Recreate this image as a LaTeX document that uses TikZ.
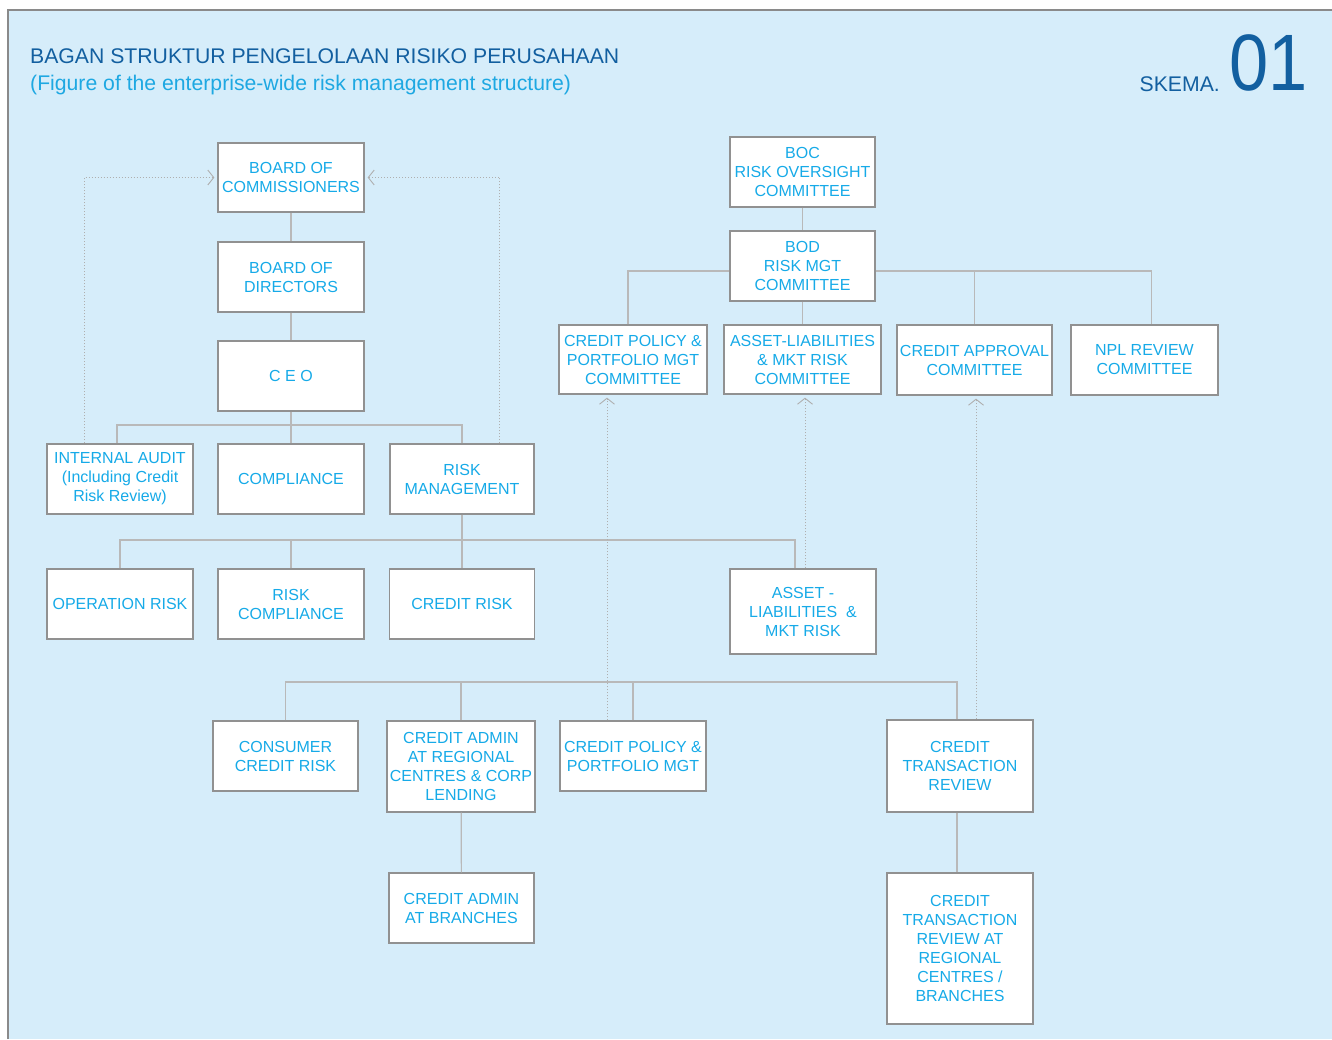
\documentclass[tikz,border=0pt]{standalone}
\usepackage{fontspec}
\setmainfont{Liberation Sans}
\usetikzlibrary{arrows.meta,calc}
\definecolor{bgblue}{RGB}{214,237,250}
\definecolor{frameg}{RGB}{138,138,138}
\definecolor{boxborder}{RGB}{145,145,145}
\definecolor{conng}{RGB}{185,185,185}
\definecolor{dotg}{RGB}{175,175,175}
\definecolor{boxtext}{RGB}{22,170,232}
\definecolor{titleblue}{RGB}{18,95,160}
\definecolor{subblue}{RGB}{30,168,226}
\newcommand{\boxfont}{\fontsize{16}{19}\selectfont}
\tikzset{
  box/.style={draw=boxborder, line width=1.3pt, fill=white, inner sep=0pt,
    align=center, text=boxtext, font=\boxfont},
  conn/.style={draw=conng, line width=1.2pt},
  dotl/.style={draw=dotg, line width=1pt, dotted, shorten >=3pt,
    -{Straight Barb[length=6pt,width=15pt,line width=0.9pt]}},
}
\begin{document}
\begin{tikzpicture}[x=1pt,y=-1pt]
\useasboundingbox (0,0) rectangle (1332,1039);
\fill[white] (0,0) rectangle (1332,1039);
\fill[bgblue] (8,10) rectangle (1332,1039);
\draw[frameg, line width=1.6pt] (8,1039) -- (8,10) -- (1332,10);

% titles
\node[anchor=base west, inner sep=0, text=titleblue, font=\fontsize{21.2}{25}\selectfont] (title) at (30,63) {BAGAN STRUKTUR PENGELOLAAN RISIKO PERUSAHAAN};
\node[anchor=base west, inner sep=0, text=subblue, font=\fontsize{21.2}{25}\selectfont] (subtitle) at (30,90) {(Figure of the enterprise-wide risk management structure)};
\node[anchor=base east, inner sep=0, text=titleblue, font=\fontsize{21.2}{25}\selectfont] (skema) at (1220,91) {SKEMA.};
\node[anchor=base east, inner sep=0, text=titleblue, font=\fontsize{80}{90}\selectfont] (num) at (1308,90) {\scalebox{0.88}[1]{01}};

% left hierarchy
\node[box, minimum width=146, minimum height=69] (boc) at (291,177.5) {BOARD OF\\COMMISSIONERS};
\node[box, minimum width=146, minimum height=70] (bod) at (291,277) {BOARD OF\\DIRECTORS};
\node[box, minimum width=146, minimum height=70] (ceo) at (291,376) {C E O};
\node[box, minimum width=146, minimum height=70] (ia) at (120,479) {INTERNAL AUDIT\\(Including Credit\\Risk Review)};
\node[box, minimum width=146, minimum height=70] (comp) at (291,479) {COMPLIANCE};
\node[box, minimum width=144, minimum height=70] (rm) at (462,479) {RISK\\MANAGEMENT};
\node[box, minimum width=146, minimum height=70] (opr) at (120,604) {OPERATION RISK};
\node[box, minimum width=146, minimum height=70] (rc) at (291,604) {RISK\\COMPLIANCE};
\node[box, minimum width=145, minimum height=70] (cr) at (462,604) {CREDIT RISK};
\node[box, minimum width=146, minimum height=85] (alr) at (803,611.5) {ASSET -\\LIABILITIES~~\&\\MKT RISK};
\node[box, minimum width=145, minimum height=70] (ccr) at (285.5,756) {CONSUMER\\CREDIT RISK};
\node[box, minimum width=148, minimum height=91] (car) at (461,766.5) {CREDIT ADMIN\\AT REGIONAL\\CENTRES \& CORP\\LENDING};
\node[box, minimum width=146, minimum height=70] (cpm) at (633,756) {CREDIT POLICY \&\\PORTFOLIO MGT};
\node[box, minimum width=146, minimum height=92] (ctr) at (960,766) {CREDIT\\TRANSACTION\\REVIEW};
\node[box, minimum width=145, minimum height=70] (cab) at (461.5,908) {CREDIT ADMIN\\AT BRANCHES};
\node[box, minimum width=146, minimum height=151] (ctrr) at (960,948.5) {CREDIT\\TRANSACTION\\REVIEW AT\\REGIONAL\\CENTRES /\\BRANCHES};

% right hierarchy
\node[box, minimum width=145, minimum height=70] (broc) at (802.5,172) {BOC\\RISK OVERSIGHT\\COMMITTEE};
\node[box, minimum width=145, minimum height=70] (brm) at (802.5,266) {BOD\\RISK MGT\\COMMITTEE};
\node[box, minimum width=148, minimum height=69] (cpc) at (633,359.5) {CREDIT POLICY \&\\PORTFOLIO MGT\\COMMITTEE};
\node[box, minimum width=157, minimum height=69] (alc) at (802.5,359.5) {ASSET-LIABILITIES\\\& MKT RISK\\COMMITTEE};
\node[box, minimum width=155, minimum height=70] (cac) at (974.5,360) {CREDIT APPROVAL\\COMMITTEE};
\node[box, minimum width=147, minimum height=70] (npl) at (1144.5,360) {NPL REVIEW\\COMMITTEE};

% junction levels
\coordinate (j1) at (0,425);
\coordinate (j2) at (0,540);
\coordinate (j4) at (0,682);
\coordinate (j5) at (0,271);

% left solid connectors
\draw[conn] (boc) -- (bod);
\draw[conn] (bod) -- (ceo);
\draw[conn] (ceo.south) -- (comp.north);
\coordinate (iain) at ($(ia.north)+(-3,0)$);
\draw[conn] (iain) -- (iain |- j1) -- (rm.north |- j1) -- (rm.north);
\draw[conn] (rm.south) -- (cr.north);
\coordinate (alrin) at ($(alr.north)+(-8,0)$);
\draw[conn] (opr.north) -- (opr.north |- j2) -- (alrin |- j2) -- (alrin);
\draw[conn] (rc.north) -- (rc.north |- j2);
\coordinate (ctrin) at ($(ctr.north)+(-3,0)$);
\draw[conn] (ccr.north) -- (ccr.north |- j4) -- (ctrin |- j4) -- (ctrin);
\draw[conn] (car.north) -- (car.north |- j4);
\draw[conn] (cpm.north) -- (cpm.north |- j4);
\draw[conn] (car) -- (cab);
\coordinate (ctrdown) at ($(ctr.south)+(-3,0)$);
\draw[conn] (ctrdown) -- (ctrdown |- ctrr.north);

% right solid connectors
\draw[conn] (broc) -- (brm);
\draw[conn] (brm) -- (alc);
\coordinate (cpcin) at ($(cpc.north)+(-5,0)$);
\coordinate (nplin) at ($(npl.north)+(7,0)$);
\draw[conn] (cpcin) -- (cpcin |- j5) -- (brm.west |- j5);
\draw[conn] (brm.east |- j5) -- (nplin |- j5) -- (nplin);
\draw[conn] (cac.north) -- (cac.north |- j5);

% dotted reporting lines
\coordinate (iaout) at ($(ia.north west)+(38,0)$);
\draw[dotl] (iaout) |- (boc.west);
\coordinate (rmout) at ($(rm.north east)+(-35,0)$);
\draw[dotl] (rmout) |- (boc.east);
\coordinate (alrout) at ($(alr.north)+(2,0)$);
\draw[dotl] (alrout) -- (alrout |- alc.south);
\coordinate (cpmout) at ($(cpm.north)+(-26,0)$);
\draw[dotl] (cpmout) -- (cpmout |- cpc.south);
\coordinate (ctrout) at ($(ctr.north)+(16,0)$);
\draw[dotl] (ctrout) -- (ctrout |- cac.south);
\end{tikzpicture}
\end{document}
